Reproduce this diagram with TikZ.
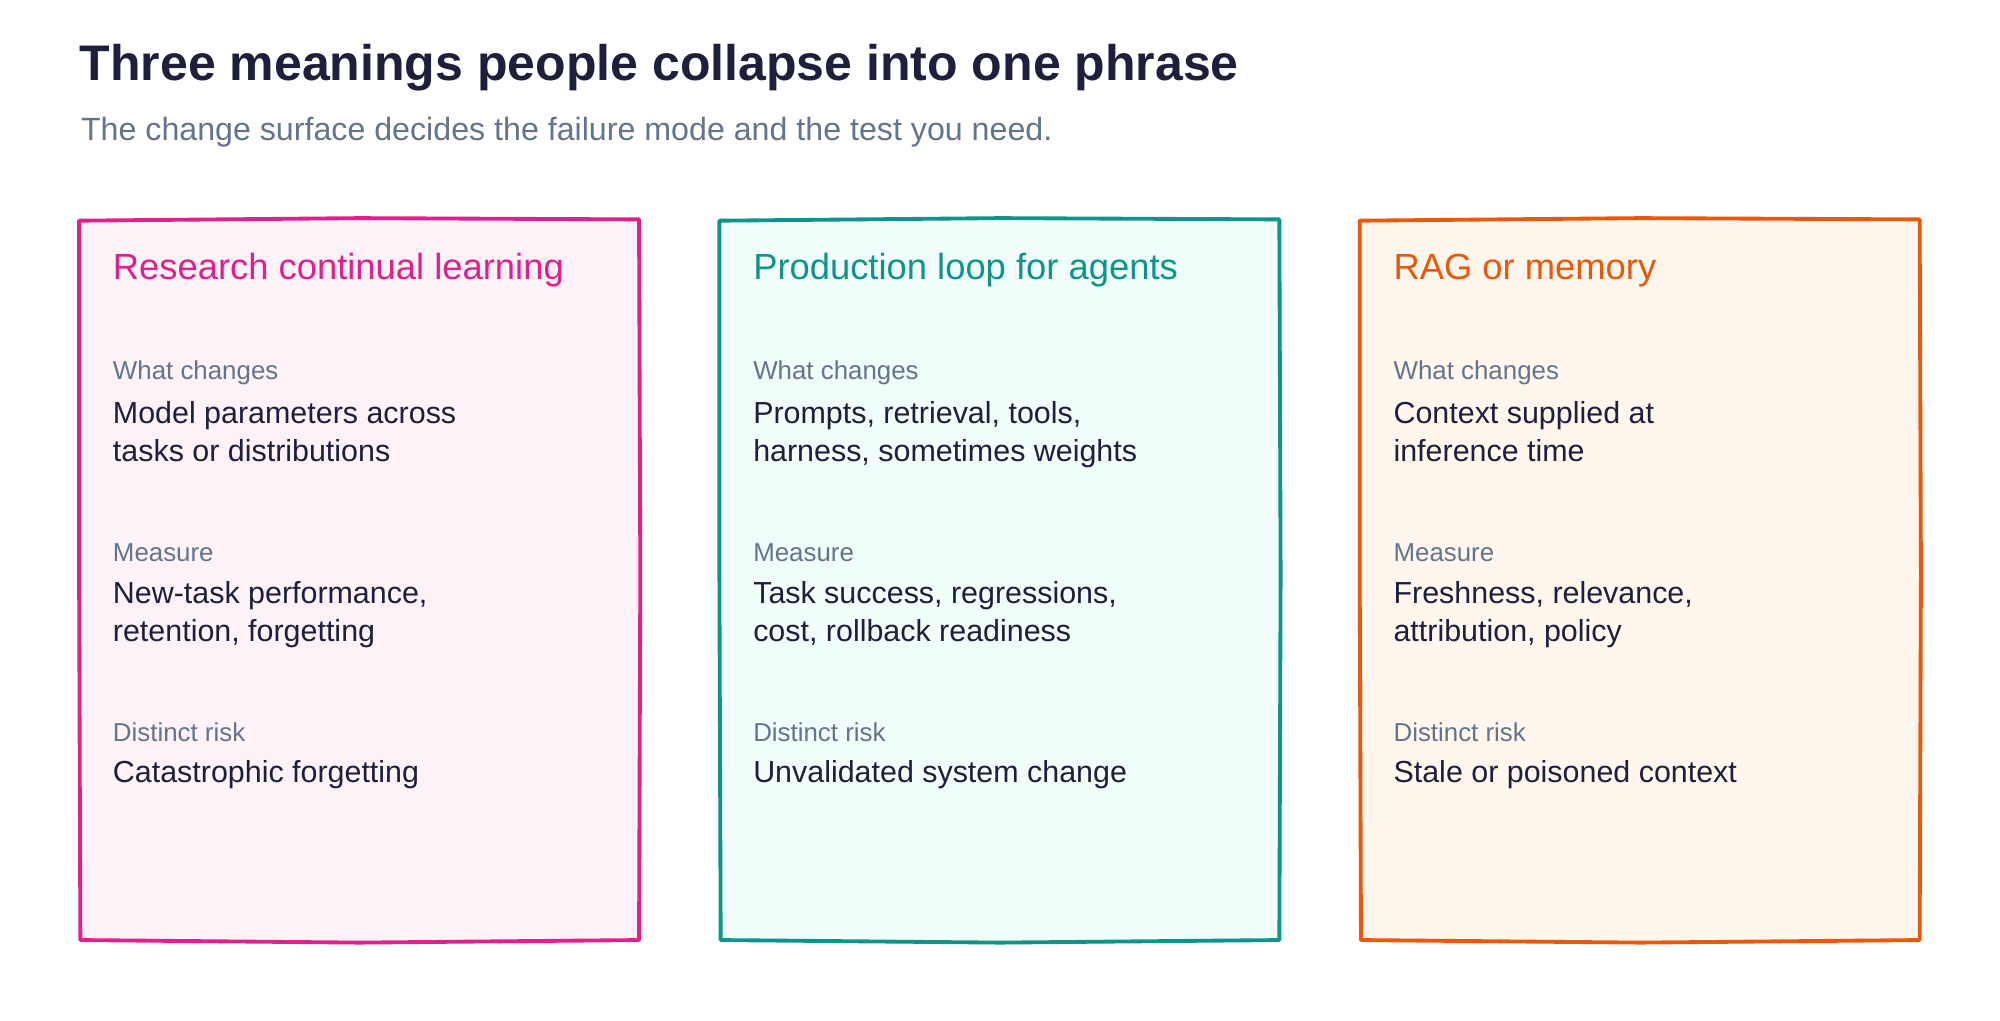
\documentclass[tikz,border=0pt]{standalone}
\usepackage{fontspec}
\setmainfont{Liberation Sans}
\definecolor{ink}{HTML}{1E1F3B}
\definecolor{muted}{HTML}{64748B}
\definecolor{pinkc}{HTML}{E0218A}
\definecolor{pinkf}{HTML}{FDF2F8}
\definecolor{tealc}{HTML}{0F9488}
\definecolor{tealf}{HTML}{F0FDFA}
\definecolor{orangec}{HTML}{EA580C}
\definecolor{orangef}{HTML}{FFF7ED}
\tikzset{
  heading/.style={anchor=west, font=\bfseries\fontsize{14.3}{17}\selectfont, text=ink, inner sep=0pt},
  subheading/.style={anchor=west, font=\fontsize{9.2}{11}\selectfont, text=muted, inner sep=0pt},
  cardtitle/.style={anchor=west, font=\fontsize{10.4}{12}\selectfont, inner sep=0pt},
  fieldlabel/.style={anchor=west, font=\fontsize{7.4}{9}\selectfont, text=muted, inner sep=0pt},
  fieldtext/.style={anchor=north west, font=\fontsize{8.7}{10.9}\selectfont, text=ink, inner sep=0pt, align=left},
  card/.style={line width=1.1pt, line join=round}
}
\begin{document}
\begin{tikzpicture}[x=0.012821cm, y=-0.012821cm]
	\useasboundingbox (0,0) rectangle (1568,800);
	\node[heading] (title) at (62,53) {Three meanings people collapse into one phrase};
	\node[subheading] (subtitle) at (63,104) {The change surface decides the failure mode and the test you need.};
	% three cards
	\foreach \x/\col/\fil/\nm/\head/\wa/\wb/\ma/\mb/\risk in {
		62/pinkc/pinkf/research/{Research continual learning}/{Model parameters across}/{tasks or distributions}/{New-task performance,}/{retention, forgetting}/{Catastrophic forgetting},
		564/tealc/tealf/production/{Production loop for agents}/{Prompts, retrieval, tools,}/{harness, sometimes weights}/{Task success, regressions,}/{cost, rollback readiness}/{Unvalidated system change},
		1066/orangec/orangef/rag/{RAG or memory}/{Context supplied at}/{inference time}/{Freshness, relevance,}/{attribution, policy}/{Stale or poisoned context}}{
		\draw[card, draw=\col, fill=\fil] (\x,173) -- (\x+220,171) -- (\x+439,172) -- (\x+440,450) -- (\x+439,737) -- (\x+220,739) -- (\x+1,737) -- (\x,450) -- cycle;
		\node[cardtitle, text=\col] (\nm-title) at (\x+26,212) {\head};
		\node[fieldlabel] (\nm-what) at (\x+26,292) {What changes};
		\node[fieldtext] (\nm-whattext) at (\x+26,314) {\wa\\\wb};
		\node[fieldlabel] (\nm-measure) at (\x+26,433) {Measure};
		\node[fieldtext] (\nm-measuretext) at (\x+26,455) {\ma\\\mb};
		\node[fieldlabel] (\nm-risk) at (\x+26,574) {Distinct risk};
		\node[fieldtext] (\nm-risktext) at (\x+26,596) {\risk};
	}
\end{tikzpicture}
\end{document}
